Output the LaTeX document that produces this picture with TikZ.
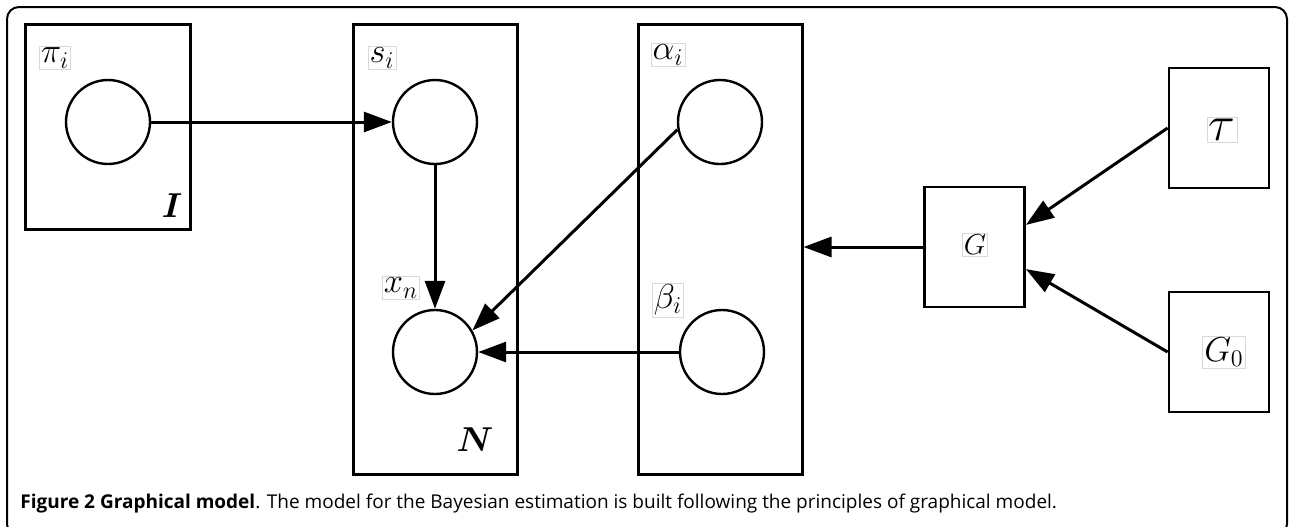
\documentclass[tikz,border=0pt]{standalone}
\usepackage{fontspec}
\setmainfont{Open Sans}
\usepackage{amsmath}
\usetikzlibrary{arrows.meta,positioning,calc}

\begin{document}
\begin{tikzpicture}[x=0.5pt,y=-0.5pt,
  plate/.style={draw,line width=1.5pt,inner sep=0pt,minimum width=82pt,minimum height=225pt},
  latent/.style={circle,draw,line width=1.2pt,minimum size=42pt,inner sep=0pt},
  param/.style={draw,line width=1.4pt,minimum width=50pt,minimum height=60pt,inner sep=0pt},
  lbl/.style={draw=black!15,line width=0.3pt,inner sep=0.8pt,font=\fontsize{18}{20}\selectfont},
  arr/.style={-{Triangle[length=14pt,width=10pt]},line width=1.5pt}]
  \useasboundingbox (0,0) rectangle (1290,526);
  % outer frame
  \draw[line width=1pt,rounded corners=6pt] (7,7) rectangle (1287,536);
  % plates
  \node[plate,minimum width=82.5pt,minimum height=102.5pt] (plateI) at (107.5,126.5) {};
  \node[plate] (plateN) at (435,249) {};
  \node[plate] (plateAB) at (720,249) {};
  % random variables
  \node[latent] (pi) at (108,122) {};
  \node[latent] (s) at (435,122) {};
  \node[latent] (xn) at (435,352) {};
  \node[latent] (alpha) at (720,122) {};
  \node[latent] (beta) at (722,352) {};
  \node[lbl] at (55,58) {$\pi_i$};
  \node[lbl] at (382,58) {$s_i$};
  \node[lbl] at (668,55) {$\alpha_i$};
  \node[lbl] at (401,288) {$x_n$};
  \node[lbl] at (668,300) {$\beta_i$};
  \node[font=\fontsize{19}{21}\selectfont,inner sep=0pt] at (172,206) {$\boldsymbol{I}$};
  \node[font=\fontsize{19}{21}\selectfont,inner sep=0pt] at (475,440) {$\boldsymbol{N}$};
  % hyperparameters
  \node[param] (G) at (974.5,247) {};
  \node[param] (tau) at (1219,128) {};
  \node[param] (G0) at (1219,352) {};
  \node[lbl,font=\fontsize{15}{17}\selectfont] at (975,245) {$G$};
  \node[lbl,font=\fontsize{26}{28}\selectfont] at (1222,130) {$\tau$};
  \node[lbl,font=\fontsize{17}{19}\selectfont] at (1224,352) {$G_0$};
  % edges
  \draw[arr] (pi) -- (s);
  \draw[arr] (s) -- (xn);
  \draw[arr] (alpha.190) -- (xn.30);
  \draw[arr] (beta) -- (xn);
  \draw[arr] (G) -- (G -| plateAB.east);
  \draw[arr] (tau.west) -- ($(G.north east)!0.32!(G.south east)$);
  \draw[arr] (G0.west) -- ($(G.north east)!0.68!(G.south east)$);
  % caption
  \node[anchor=base west,inner sep=0pt,font=\fontsize{9.5}{11}\selectfont] (caption) at (20,508)
    {\textbf{Figure 2 Graphical model}. The model for the Bayesian estimation is built following the principles of graphical model.};
\end{tikzpicture}
\end{document}
